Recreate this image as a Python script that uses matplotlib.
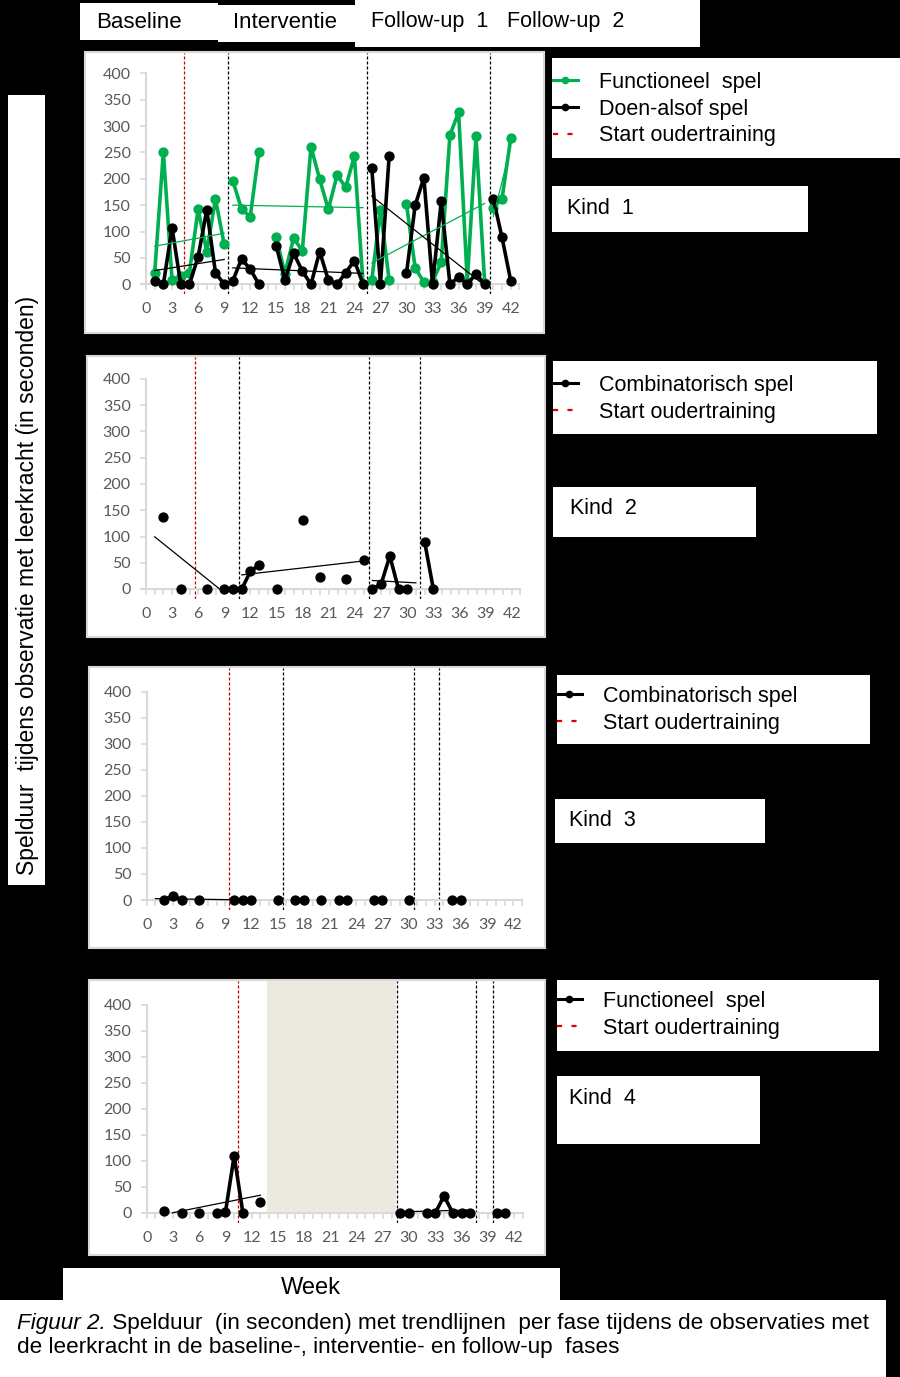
import numpy as np
import matplotlib
matplotlib.use("Agg")
import matplotlib.pyplot as plt
from matplotlib.patches import Rectangle
from matplotlib.lines import Line2D

plt.rcParams['font.family'] = ['Lato', 'DejaVu Sans']
TXT = ['Liberation Sans', 'DejaVu Sans']

# ---- data (weeks 1..42, None = no observation) ----
weeks = np.arange(1, 43)

kind1_functioneel = [22, 251, 8, 15, 22, 142, 62, 162, 76,
                     196, 143, 128, 251, None, 89, 20, 88, 63, 261, 199, 142, 207, 184, 243, 0,
                     8, 141, 8, None, 152, 31, 4, 5, 42, 283, 326, 5, 281, 3,
                     145, 162, 277]
kind1_doenalsof = [7, 0, 107, 0, 0, 52, 141, 22, 0,
                   7, 48, 29, 0, None, 73, 8, 59, 25, 0, 62, 8, 0, 22, 45, 0,
                   221, 0, 243, None, 21, 150, 202, 0, 157, 0, 14, 0, 20, 0,
                   162, 89, 7]
kind2_combinatorisch = [None, 137, None, 0, None, None, 0, None, 0, 0,
                        0, 34, 46, None, 0, None, None, 131, None, 23, None, None, 19, None, 55,
                        0, 9, 63, 0, 0, None, 90, 0, None, None, None, None, None, None, None,
                        None, None]
kind3_combinatorisch = [None, 0, 8, 0, None, 0, None, None, None, 0, 0, 0, None, None, 0,
                        None, 0, 0, None, 0, None, 0, 0, None, None, 0, 0, None, None, 0,
                        None, None, None, None, 0, 0, None, None, None, None, None, None]
kind4_functioneel = [None, 4, None, 0, None, 0, None, 0, 1, 110, 0, None, 21,
                     None, None, None, None, None, None, None, None, None, None, None, None,
                     None, None, None, 0, 0, None, 0, 0, 33, 0, 0, 0, None, None, 0, 0, None]

# phase boundaries (weeks) and start of parent training
kind1_phases = [9.5, 25.5, 39.65]
kind2_phases = [10.65, 25.6, 31.5]
kind3_phases = [15.6, 30.65, 33.5]
kind4_phases = [28.6, 37.6, 39.55]
kind4_trend_cuts = [13.8, 28.6, 37.6, 39.55]
start_oudertraining = [4.35, 5.6, 9.45, 10.45]
kind4_gap = (13.8, 28.5)

phase_names = ['Baseline', 'Interventie', 'Follow-up  1', 'Follow-up  2']
week_ticks = list(range(0, 43, 3))
y_ticks = list(range(0, 401, 50))

GREEN = '#00b050'
BLACK = '#000000'
RED = '#c00000'

W, H = 900, 1377
fig = plt.figure(figsize=(W / 100, H / 100), dpi=100, facecolor='black')
bg = fig.add_axes([0, 0, 1, 1])
bg.set_xlim(0, W)
bg.set_ylim(H, 0)
bg.axis('off')
bg.set_zorder(0)


def box(x0, y0, x1, y1, edge='none'):
    bg.add_patch(Rectangle((x0, y0), x1 - x0, y1 - y0, facecolor='white',
                           edgecolor=edge, lw=1.5, zorder=1))


def label(x, y, s, size=15.5, **kw):
    return bg.text(x, y, s, fontsize=size, family=TXT, color='black',
                   va='center', ha=kw.pop('ha', 'left'), zorder=3, **kw)


# header
box(80, 3, 218, 40)
box(218, 5, 355, 42)
box(355, 0, 700, 47)
label(96, 22, phase_names[0], size=16)
label(233, 23, phase_names[1], size=16)
label(371, 22, phase_names[2])
label(507, 22, phase_names[3])

# y label
box(8, 95, 45, 885)
label(28, 585, 'Spelduur  tijdens observatie met leerkracht (in seconden)', size=16.5,
      rotation=90, ha='center')

# panel layout in pixels: box, x of week 0, x of week 42, y of 0, y of 400
layout = [
    dict(box=(85, 52, 544, 333), px0=146, px42=510.7, py0=284.3, py400=73.3),
    dict(box=(87, 356, 545, 637), px0=146, px42=511.7, py0=589, py400=379),
    dict(box=(89, 667, 545, 948), px0=146.7, px42=513.3, py0=900, py400=691.7),
    dict(box=(89, 980, 545, 1255), px0=146.7, px42=514, py0=1213, py400=1005),
]


def make_axes(g):
    box(*g['box'], edge='#d9d9d9')
    sx = (g['px42'] - g['px0']) / 42
    sy = (g['py0'] - g['py400']) / 400
    xlo, xhi, ylo = -2.0, 44.0, -19.0
    yhi = (g['py0'] - g['box'][1] - 1) / sy
    left = g['px0'] + xlo * sx
    right = g['px0'] + xhi * sx
    bottom = g['py0'] - ylo * sy
    top = g['box'][1] + 1
    ax = fig.add_axes([left / W, 1 - bottom / H, (right - left) / W, (bottom - top) / H])
    ax.set_zorder(2)
    ax.set_facecolor('none')
    ax.set_xlim(xlo, xhi)
    ax.set_ylim(ylo, yhi)
    for s in ['top', 'right']:
        ax.spines[s].set_visible(False)
    ax.spines['left'].set_position(('data', 0))
    ax.spines['left'].set_bounds(0, 400)
    ax.spines['bottom'].set_position(('data', 0))
    ax.spines['bottom'].set_bounds(-0.5, 43)
    for s in ['left', 'bottom']:
        ax.spines[s].set_color('#d9d9d9')
        ax.spines[s].set_linewidth(1.5)
    ax.set_yticks(y_ticks)
    ax.set_xticks(week_ticks)
    ax.set_xticks(range(0, 44), minor=True)
    ax.tick_params(axis='both', which='both', color='#d9d9d9', width=1.2, length=4,
                   labelcolor='#595959', labelsize=11.5)
    ax.tick_params(axis='x', pad=9)
    ax.tick_params(axis='y', pad=7)
    return ax


def plot_series(ax, vals, bounds, color, trend_bounds=None):
    y = np.array(vals, dtype=float)
    edges = [0.5] + list(bounds) + [42.5]
    for lo, hi in zip(edges[:-1], edges[1:]):
        m = (weeks > lo) & (weeks < hi)
        ax.plot(weeks[m], y[m], color=color, lw=2.6, marker='o', markersize=6.4,
                zorder=3, solid_joinstyle='miter')
    # linear trend per phase, as in Excel, cut off below the x axis
    tedges = [0.5] + list(trend_bounds if trend_bounds else bounds) + [42.5]
    for lo, hi in zip(tedges[:-1], tedges[1:]):
        m = (weeks > lo) & (weeks < hi) & ~np.isnan(y)
        if m.sum() < 2:
            continue
        coef = np.polyfit(weeks[m], y[m], 1)
        xs = np.linspace(np.ceil(lo), np.floor(hi), 300)
        ys = np.polyval(coef, xs)
        ys[ys < 0.3] = np.nan
        ax.plot(xs, ys, color=color, lw=0.9, zorder=4)


def phase_lines(ax, bounds, red):
    ax.axvline(red, color=RED, lw=0.9, ls=(0, (2.4, 1.6)), zorder=1)
    for b in bounds:
        ax.axvline(b, color=BLACK, lw=0.9, ls=(0, (2.4, 1.6)), zorder=1)


def add_legend(ax, handles, labels, x, y):
    return ax.legend(handles, labels, loc='upper left', bbox_to_anchor=(x, y),
                     bbox_transform=bg.transData, frameon=False, borderpad=0,
                     borderaxespad=0, handlelength=1.15, handletextpad=1.0,
                     labelspacing=0.26, prop={'family': TXT, 'size': 15.5})


dot_green = Line2D([], [], color=GREEN, lw=2.2, marker='o', markersize=4.5)
dot_black = Line2D([], [], color=BLACK, lw=2.2, marker='o', markersize=4.5)
red_dash = Line2D([], [], color='#e00000', lw=1.6, ls=(0, (2.3, 4.2)))

# Kind 1
ax1 = make_axes(layout[0])
phase_lines(ax1, kind1_phases, start_oudertraining[0])
plot_series(ax1, kind1_functioneel, kind1_phases, GREEN)
plot_series(ax1, kind1_doenalsof, kind1_phases, BLACK)
box(552, 58, 900, 158)
add_legend(ax1, [dot_green, dot_black, red_dash],
           ['Functioneel  spel', 'Doen-alsof spel', 'Start oudertraining'], 553, 72)
box(552, 186, 808, 232)
label(567, 208, 'Kind  1')

# Kind 2
ax2 = make_axes(layout[1])
phase_lines(ax2, kind2_phases, start_oudertraining[1])
plot_series(ax2, kind2_combinatorisch, kind2_phases, BLACK)
box(553, 361, 877, 434)
add_legend(ax2, [dot_black, red_dash], ['Combinatorisch spel', 'Start oudertraining'], 553, 375)
box(553, 487, 756, 537)
label(570, 508, 'Kind  2')

# Kind 3
ax3 = make_axes(layout[2])
phase_lines(ax3, kind3_phases, start_oudertraining[2])
plot_series(ax3, kind3_combinatorisch, kind3_phases, BLACK)
box(557, 675, 870, 744)
add_legend(ax3, [dot_black, red_dash], ['Combinatorisch spel', 'Start oudertraining'], 557, 686)
box(555, 799, 765, 843)
label(569, 820, 'Kind  3')

# Kind 4
ax4 = make_axes(layout[3])
y0, y1 = ax4.get_ylim()
ax4.axvspan(kind4_gap[0], kind4_gap[1], ymin=(0 - y0) / (y1 - y0), ymax=1,
            color='#ebe9e0', lw=0, zorder=0.5)
phase_lines(ax4, kind4_phases, start_oudertraining[3])
plot_series(ax4, kind4_functioneel, kind4_phases, BLACK, trend_bounds=kind4_trend_cuts)
box(557, 980, 879, 1051)
add_legend(ax4, [dot_black, red_dash], ['Functioneel  spel', 'Start oudertraining'], 557, 991)
box(557, 1076, 760, 1144)
label(569, 1098, 'Kind  4')

# x label and caption
box(63, 1268, 560, 1300)
label(311, 1288, 'Week', size=17, ha='center')
box(0, 1300, 886, 1377)
t1 = bg.text(17, 1323, 'Figuur 2.', fontsize=16.2, family=TXT, style='italic',
             va='center', zorder=3)
bg.annotate(' Spelduur  (in seconden) met trendlijnen  per fase tijdens de observaties met',
            xy=(1, 0), xycoords=t1, va='bottom', ha='left', fontsize=16.2,
            family=TXT, zorder=3)
bg.text(17, 1348, 'de leerkracht in de baseline-, interventie- en follow-up  fases',
        fontsize=16.2, family=TXT, va='center', zorder=3)

fig.savefig('out.png', dpi=100, facecolor='black')
